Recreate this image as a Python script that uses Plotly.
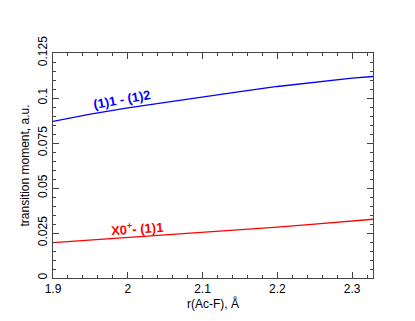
import plotly.graph_objects as go

# r(Ac-F) grid, Angstrom
r_vals = [1.90, 1.95, 2.00, 2.05, 2.10, 2.15, 2.20, 2.25, 2.30, 2.33]
# (1)1 - (1)2 transition moment, a.u.
tm_11_12 = [0.0870, 0.0910, 0.0945, 0.0976, 0.1005, 0.1036, 0.1064, 0.1089, 0.1110, 0.1120]
# X0+ - (1)1 transition moment, a.u.
tm_x0_11 = [0.0196, 0.0210, 0.0224, 0.0238, 0.0253, 0.0268, 0.0283, 0.0299, 0.0316, 0.0327]

x_ticks = [1.9, 2.0, 2.1, 2.2, 2.3]
x_ticklabels = ['1.9', '2', '2.1', '2.2', '2.3']
y_ticks = [0, 0.025, 0.05, 0.075, 0.1, 0.125]
y_ticklabels = ['0', '0.025', '0.05', '0.075', '0.1', '0.125']

font_family = 'Liberation Sans, Arial, sans-serif'
axis_color = '#444'

fig = go.Figure()
fig.add_trace(go.Scatter(x=r_vals, y=tm_11_12, mode='lines',
                         line=dict(color='#0000ff', width=1.3)))
fig.add_trace(go.Scatter(x=r_vals, y=tm_x0_11, mode='lines',
                         line=dict(color='#ff0000', width=1.3)))

fig.add_annotation(x=1.992, y=0.0990, text='<b>(1)1 - (1)2</b>', showarrow=False,
                   textangle=-10, font=dict(color='#0000ff', size=13, family=font_family))
fig.add_annotation(x=2.013, y=0.0278, text='<b>X0<sup>+</sup>- (1)1</b>', showarrow=False,
                   textangle=-4, font=dict(color='#ff0000', size=13, family=font_family))

axis_common = dict(showline=True, linecolor=axis_color, linewidth=1, mirror='ticks',
                   ticks='inside', tickcolor=axis_color, ticklen=6, showgrid=False,
                   zeroline=False, automargin=False, tickfont=dict(size=12, color='#000'))

fig.update_xaxes(range=[1.9, 2.328], tickvals=x_ticks, ticktext=x_ticklabels,
                 minor=dict(dtick=0.02, tick0=1.9, ticks='inside', ticklen=3,
                            tickcolor=axis_color),
                 title=dict(text='r(Ac-F), Å', font=dict(size=12, color='#000'), standoff=4),
                 **axis_common)
fig.update_yaxes(range=[0, 0.125], tickvals=y_ticks, ticktext=y_ticklabels, tickangle=-90,
                 minor=dict(dtick=0.005, tick0=0, ticks='inside', ticklen=3,
                            tickcolor=axis_color),
                 title=dict(text='transition moment, a.u.', font=dict(size=12, color='#000'),
                            standoff=4),
                 **axis_common)

fig.update_layout(width=415, height=321, margin=dict(l=53, r=42, t=53, b=43),
                  plot_bgcolor='white', paper_bgcolor='white', showlegend=False,
                  font=dict(family=font_family, color='#000'))

# drop the browser's default body margin so the figure sits at the page corner
fig.write_html("out.html", config={'displayModeBar': False},
               post_script="document.body.style.margin='0';")
